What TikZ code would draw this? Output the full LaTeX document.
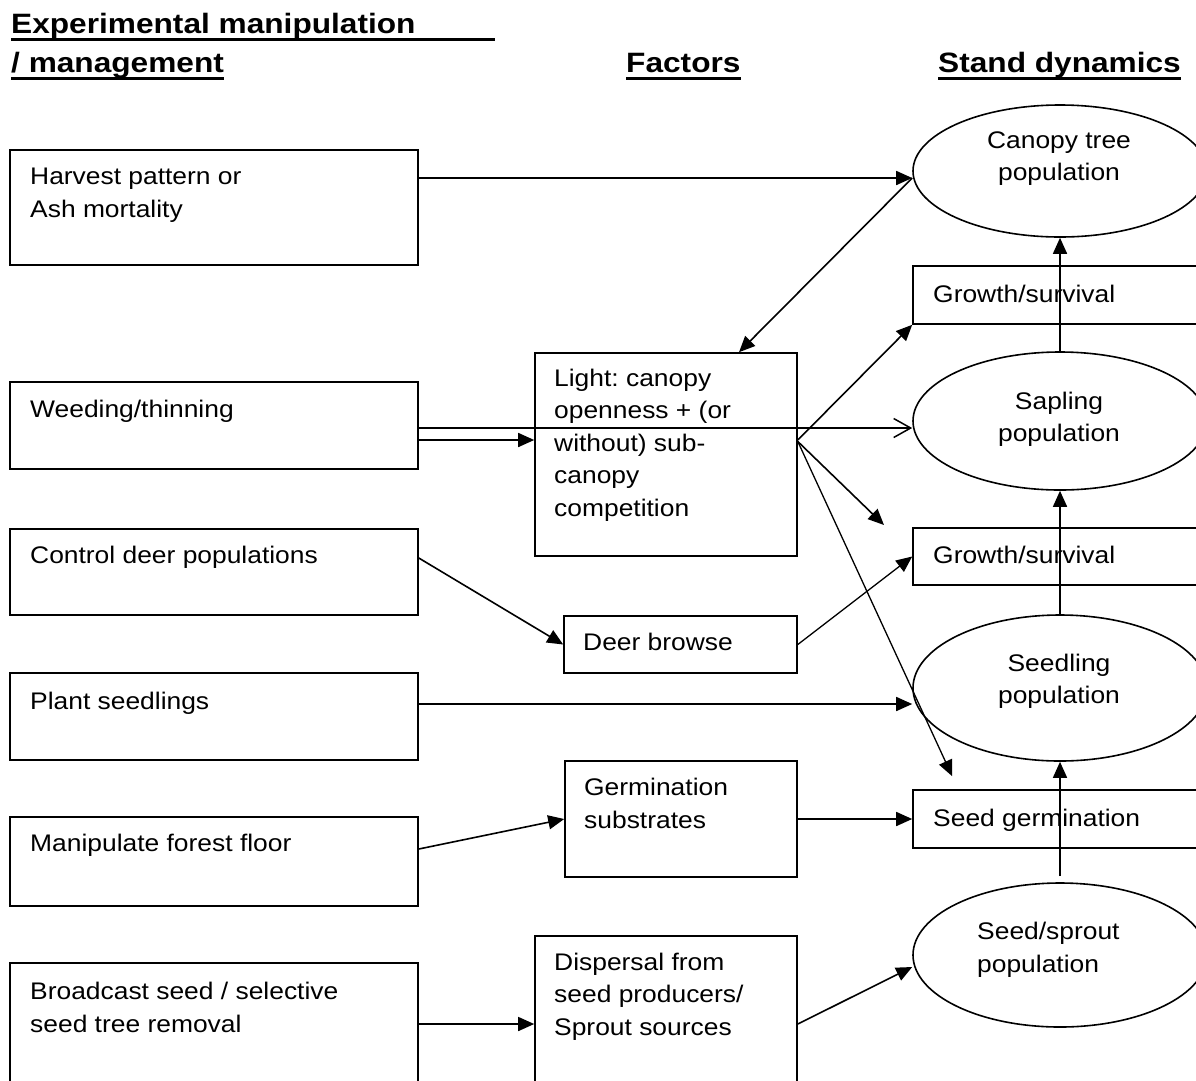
\documentclass[tikz,border=0pt]{standalone}
\usepackage{fontspec}
\setmainfont{Liberation Sans}[FakeStretch=1.1]
\newfontfamily\hdfont{Liberation Sans}[FakeStretch=1.13]
\usetikzlibrary{shapes.geometric,arrows.meta}
\frenchspacing
\begin{document}
\begin{tikzpicture}[x=1pt,y=-1pt,
  box/.style={draw, line width=1.6pt, rectangle, inner sep=0pt},
  oval/.style={draw, line width=1.6pt, ellipse, inner sep=0pt, minimum width=294pt},
  txt/.style={inner sep=0pt, font=\fontsize{24}{32.5}\selectfont, align=left, anchor=base west},
  ctxt/.style={inner sep=0pt, font=\fontsize{24}{32}\selectfont, align=center, anchor=base},
  hd/.style={inner sep=0pt, font=\hdfont\bfseries\fontsize{28}{34}\selectfont, anchor=base west},
  uline/.style={line width=3pt},
  arr/.style={line width=1.6pt, -{Triangle[length=16pt,width=14pt]}},
  thinarr/.style={line width=1.3pt, -{Triangle[length=16pt,width=14pt]}},
  oarr/.style={line width=1.5pt, -{Straight Barb[length=17pt,width=19pt]}}]
\useasboundingbox (0,0) rectangle (1196,1080);
\clip (0,0) rectangle (1196,1080);

% headers
\node[hd] (h1) at (11,33) {Experimental manipulation};
\node[hd] (h2) at (11,72) {/ management};
\node[hd] (h3) at (626,72) {Factors};
\node[hd] (h4) at (938,72) {Stand dynamics};
\draw[uline] ([yshift=-6pt]h1.base west) -- ++(484,0);
\draw[uline] ([yshift=-6pt]h2.base west) -- ([yshift=-6pt]h2.base east);
\draw[uline] ([yshift=-6pt]h3.base west) -- ([yshift=-6pt]h3.base east);
\draw[uline] ([yshift=-6pt]h4.base west) -- ([yshift=-6pt]h4.base east);

% left column
\node[box, minimum width=408pt, minimum height=115pt] (harvest) at (214,207.5) {};
\node[box, minimum width=408pt, minimum height=87pt] (weed) at (214,425.5) {};
\node[box, minimum width=408pt, minimum height=86pt] (deer) at (214,572) {};
\node[box, minimum width=408pt, minimum height=87pt] (plant) at (214,716.5) {};
\node[box, minimum width=408pt, minimum height=89pt] (floor) at (214,861.5) {};
\node[box, minimum width=408pt, minimum height=127pt] (broad) at (214,1026.5) {};
\node[txt] (tharvest) at (30,217) {Harvest pattern or\\Ash mortality};
\node[txt] (tweed) at (30,417) {Weeding/thinning};
\node[txt] (tdeer) at (30,563) {Control deer populations};
\node[txt] (tplant) at (30,709) {Plant seedlings};
\node[txt] (tfloor) at (30,851) {Manipulate forest floor};
\node[txt] (tbroad) at (30,1032) {Broadcast seed / selective\\seed tree removal};

% middle column
\node[box, minimum width=262pt, minimum height=203pt] (light) at (666,454.5) {};
\node[box, minimum width=233pt, minimum height=57pt] (browse) at (680.5,644.5) {};
\node[box, minimum width=232pt, minimum height=116pt] (germ) at (681,819) {};
\node[box, minimum width=262pt, minimum height=154pt] (disp) at (666,1013) {};
\node[txt] (tlight) at (554,516) {Light: canopy\\openness + (or\\without) sub-\\canopy\\competition};
\node[txt] (tbrowse) at (583,650) {Deer browse};
\node[txt] (tgerm) at (584,828) {Germination\\substrates};
\node[txt] (tdisp) at (554,1035) {Dispersal from\\seed producers/\\Sprout sources};

% right column
\node[oval, minimum height=132pt] (canopy) at (1060,171) {};
\node[box, minimum width=297pt, minimum height=58pt] (grow1) at (1061.5,295) {};
\node[oval, minimum height=138pt] (sapling) at (1060,421) {};
\node[box, minimum width=297pt, minimum height=57pt] (grow2) at (1061.5,556.5) {};
\node[oval, minimum height=146pt] (seedling) at (1060,688) {};
\node[box, minimum width=297pt, minimum height=58pt] (sgerm) at (1061.5,819) {};
\node[oval, minimum height=144pt] (sprout) at (1060,955) {};
\node[ctxt] (tcanopy) at (1059,180) {Canopy tree\\population};
\node[txt] (tgrow1) at (933,302) {Growth/survival};
\node[ctxt] (tsapling) at (1059,441) {Sapling\\population};
\node[txt] (tgrow2) at (933,563) {Growth/survival};
\node[ctxt] (tseedling) at (1059,703) {Seedling\\population};
\node[txt] (tsgerm) at (933,826) {Seed germination};
\node[txt] (tsprout) at (977,972) {Seed/sprout\\population};

% connectors
\draw[arr] ([yshift=29.5pt]harvest.east) -- ([yshift=-7pt]canopy.west);
\draw[arr] ([yshift=-7pt]canopy.west) -- ([xshift=73pt]light.north);
\draw[oarr] ([yshift=-2.5pt]weed.east) -- ([yshift=-7pt]sapling.west);
\draw[arr] ([yshift=-14.5pt]weed.east) -- ([yshift=14.5pt]light.west);
\draw[arr] ([yshift=14.5pt]light.east) -- (grow1.south west);
\coordinate (g2end) at (884,525);
\draw[arr] ([yshift=13pt]light.east) -- (g2end);
\draw[thinarr] ([yshift=13pt]light.east) -- ([shift={(40pt,13pt)}]sgerm.north west);
\draw[arr] ([yshift=14pt]deer.east) -- (browse.west);
\draw[thinarr] (browse.east) -- (grow2.west);
\draw[arr] ([yshift=12.5pt]plant.east) -- ([yshift=-16pt]seedling.west);
\draw[arr] ([yshift=12.5pt]floor.east) -- (germ.west);
\draw[arr] (germ.east) -- (sgerm.west);
\draw[arr] ([yshift=2.5pt]broad.east) -- ([yshift=-11pt]disp.west);
\draw[arr] ([yshift=-11pt]disp.east) -- ([yshift=-12pt]sprout.west);
\draw[arr] (sapling.north) -- (canopy.south);
\draw[arr] (seedling.north) -- (sapling.south);
\draw[arr] ([yshift=6pt]sprout.north) -- (seedling.south);
\end{tikzpicture}
\end{document}
